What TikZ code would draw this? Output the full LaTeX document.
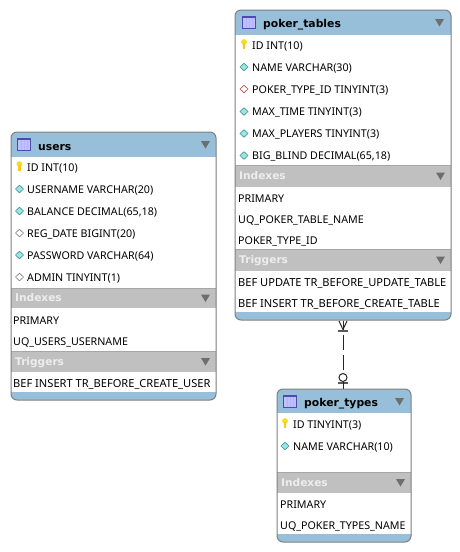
\documentclass[tikz,border=0pt]{standalone}
\usepackage{fontspec}
\setmainfont{Noto Sans}
\newfontfamily\headfont{DejaVu Sans}
\definecolor{hdr}{HTML}{98BFDA}
\definecolor{band}{HTML}{C0C0C0}
\definecolor{edge}{HTML}{808080}
\definecolor{tri}{HTML}{6E6E6E}
\definecolor{bandtxt}{HTML}{EDEDED}
\definecolor{cy}{HTML}{8FEBEB}
\definecolor{keyy}{HTML}{F8DC20}
\tikzset{
  rowtext/.style={anchor=base west,inner sep=0pt,font=\fontsize{10.7}{12}\selectfont,text=black},
  trigtext/.style={rowtext,font=\fontsize{11.1}{12}\selectfont},
  titletext/.style={anchor=base west,inner sep=0pt,font=\headfont\fontsize{10.8}{13}\selectfont\bfseries,text=black},
  bandtext/.style={anchor=base west,inner sep=0pt,font=\headfont\fontsize{10.6}{12}\selectfont\bfseries,text=bandtxt},
  rel/.style={line width=1pt,black!85},
  reldash/.style={rel,dash pattern=on 15pt off 5pt}
}
\newcommand{\tableshell}[7]{% name x1 y1 x2 y2 headbot foottop
  \fill[hdr,rounded corners=6pt] (#2,#3) rectangle (#4,#5);
  \fill[white] (#2,#6) rectangle (#4,#7);
}
\newcommand{\tableborder}[5]{%
  \draw[edge,line width=1pt,rounded corners=6pt] (#2,#3) rectangle (#4,#5);
}
\newcommand{\tabicon}[2]{% x y top-left
  \fill[blue!55!black!70!white] (#1,#2) rectangle ++(14,13);
  \fill[blue!25!white] (#1+1.2,#2+2.2) rectangle ++(11.6,9.6);
  \foreach \k in {3.6,7,10.4}{\fill[white!70!blue] (#1+\k,#2+2.2) rectangle ++(1,9.6);}
}
\newcommand{\tridown}[2]{% right x, top y
  \fill[tri] ({#1-9},{#2}) -- ({#1},{#2}) -- ({#1-4.5},{#2+7.5}) -- cycle;
}
\newcommand{\bandbar}[6]{% name x1 x2 y1 y2 text
  \fill[band] (#2,#4) rectangle (#3,#5);
  \draw[edge!70!white,line width=.6pt] (#2,#4) -- (#3,#4);
  \node[bandtext] (#1) at (#2+4,{(#4+#5)/2+3.5}) {#6};
  \tridown{#3-6}{(#4+#5)/2-3.5}
}
\newcommand{\keyicon}[2]{% centre x,y
  \fill[keyy] (#1,#2-3) ellipse (3 and 2.8);
  \fill[keyy!80!orange] (#1-1.2,#2-2) rectangle (#1+1.2,#2+4);
}
\newcommand{\dia}[4]{% x y fill stroke
  \draw[fill=#3,draw=#4,line width=.6pt] (#1-4,#2) -- (#1,#2-3.8) -- (#1+4,#2) -- (#1,#2+3.8) -- cycle;
}
\newcommand{\rowlabel}[4]{\node[rowtext] (#1) at (#2,#3+4) {#4};}
\newcommand{\triglabel}[4]{\node[trigtext] (#1) at (#2,#3+4) {#4};}
\begin{document}
\begin{tikzpicture}[x=1pt,y=-1pt]
\useasboundingbox (0,0) rectangle (460,552);
\fill[white] (0,0) rectangle (460,552);

% ---------- users
\tableshell{users}{11}{132}{216}{400}{157}{392}
\tabicon{17}{138}
\node[titletext] (usersT) at (38,150) {users};
\tridown{210}{141}
\keyicon{19.5}{167}\rowlabel{u1}{27}{167}{ID INT(10)}
\dia{19.5}{189}{cy}{cy!60!black}\rowlabel{u2}{27}{189}{USERNAME VARCHAR(20)}
\dia{19.5}{211}{cy}{cy!60!black}\rowlabel{u3}{27}{211}{BALANCE DECIMAL(65,18)}
\dia{19.5}{233}{white}{gray}\rowlabel{u4}{27}{233}{REG\_DATE BIGINT(20)}
\dia{19.5}{255}{cy}{cy!60!black}\rowlabel{u5}{27}{255}{PASSWORD VARCHAR(64)}
\dia{19.5}{277}{white}{gray}\rowlabel{u6}{27}{277}{ADMIN TINYINT(1)}
\bandbar{uI}{11}{216}{288}{308}{Indexes}
\rowlabel{u7}{13}{320}{PRIMARY}
\rowlabel{u8}{13}{341}{UQ\_USERS\_USERNAME}
\bandbar{uT}{11}{216}{351}{372}{Triggers}
\triglabel{u9}{13}{383}{BEF INSERT TR\_BEFORE\_CREATE\_USER}
\tableborder{users}{11}{132}{216}{400}

% ---------- poker_tables
\tableshell{pt}{235}{10}{451}{320}{35}{312}
\tabicon{242}{16}
\node[titletext] (ptT) at (263,27) {poker\_tables};
\tridown{444}{19}
\keyicon{244}{45}\rowlabel{p1}{252}{45}{ID INT(10)}
\dia{244}{67}{cy}{cy!60!black}\rowlabel{p2}{252}{67}{NAME VARCHAR(30)}
\dia{244}{89}{white}{red!60!black!70!white}\rowlabel{p3}{252}{89.5}{POKER\_TYPE\_ID TINYINT(3)}
\dia{244}{111.5}{cy}{cy!60!black}\rowlabel{p4}{252}{111.5}{MAX\_TIME TINYINT(3)}
\dia{244}{133.5}{cy}{cy!60!black}\rowlabel{p5}{252}{133.5}{MAX\_PLAYERS TINYINT(3)}
\dia{244}{155.5}{cy}{cy!60!black}\rowlabel{p6}{252}{155.5}{BIG\_BLIND DECIMAL(65,18)}
\bandbar{pI}{235}{451}{165}{187}{Indexes}
\rowlabel{p7}{238}{198}{PRIMARY}
\rowlabel{p8}{238}{219}{UQ\_POKER\_TABLE\_NAME}
\rowlabel{p9}{238}{240}{POKER\_TYPE\_ID}
\bandbar{pT}{235}{451}{249}{271}{Triggers}
\triglabel{p10}{238}{282}{BEF UPDATE TR\_BEFORE\_UPDATE\_TABLE}
\triglabel{p11}{238}{303}{BEF INSERT TR\_BEFORE\_CREATE\_TABLE}
\tableborder{pt}{235}{10}{451}{320}

% ---------- poker_types
\tableshell{ty}{277}{389}{411}{542}{413}{534}
\tabicon{283}{395}
\node[titletext] (tyT) at (304,406) {poker\_types};
\tridown{404}{398}
\keyicon{285}{424}\rowlabel{t1}{293}{424}{ID TINYINT(3)}
\dia{285}{446}{cy}{cy!60!black}\rowlabel{t2}{293}{446}{NAME VARCHAR(10)}
\bandbar{tI}{277}{411}{472}{493}{Indexes}
\rowlabel{t3}{280}{504}{PRIMARY}
\rowlabel{t4}{280}{525}{UQ\_POKER\_TYPES\_NAME}
\tableborder{ty}{277}{389}{411}{542}

% ---------- relationship
\coordinate (relA) at (343,320.5);
\coordinate (relB) at (343,389);
\coordinate (barA) at (343,331);
\coordinate (barB) at (343,383);
\coordinate (dashA) at (343,335);
\coordinate (dashB) at (343,371);
\coordinate (circ) at (343,377.5);
\draw[rel] (relA) -- (barA);
\draw[rel] (339,321) -- (343,329.5) -- (347,321);
\draw[rel,line width=1.4pt,black!65] (338,331) -- (348,331);
\draw[reldash] (dashA) -- (dashB);
\draw[rel] (circ) circle (4);
\draw[rel,line width=1.4pt,black!65] (338,383) -- (348,383);
\draw[rel] (343,381.5) -- (relB);
\end{tikzpicture}
\end{document}
